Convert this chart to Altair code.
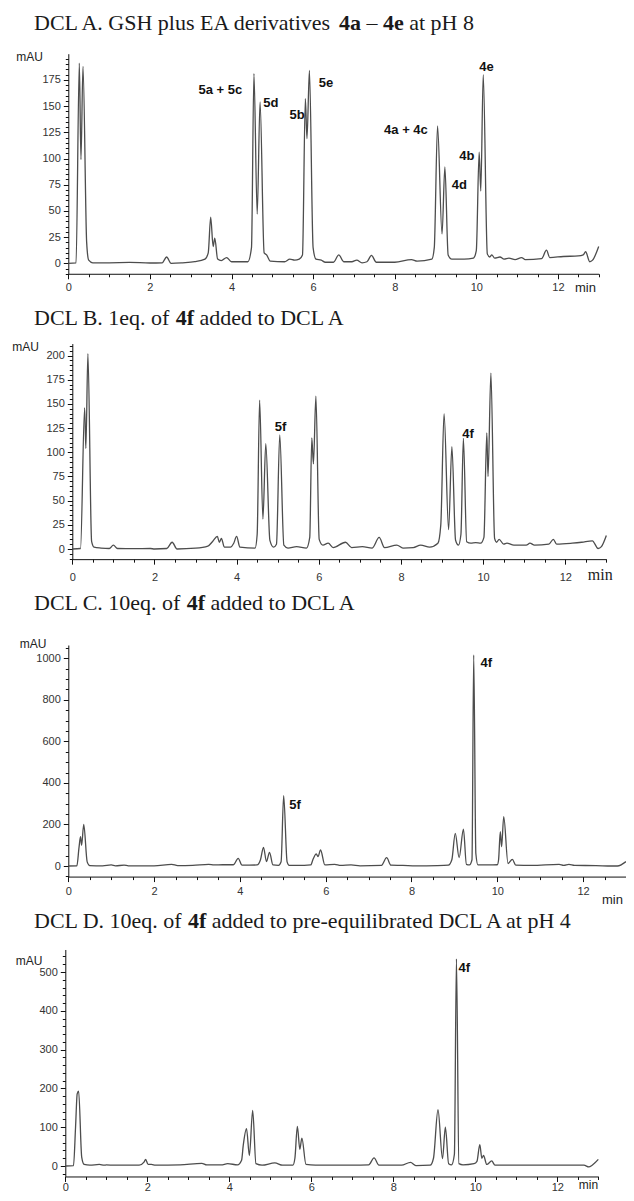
import altair as alt
import pandas as pd

# ---------------- data: chromatogram traces (time in min, absorbance in mAU) -------------
a_t = [0.00, 0.19, 0.27, 0.31, 0.36, 0.45, 0.50, 0.60, 1.00, 1.50, 2.00, 2.30, 2.41, 2.52, 2.80,
       3.10, 3.35, 3.43, 3.49, 3.55, 3.59, 3.66, 3.75, 3.88, 4.00, 4.40, 4.49, 4.55, 4.63, 4.70,
       4.80, 4.86, 4.95, 5.30, 5.43, 5.55, 5.66, 5.74, 5.81, 5.85, 5.91, 6.00, 6.07, 6.20, 6.30,
       6.50, 6.63, 6.75, 6.95, 7.07, 7.20, 7.32, 7.43, 7.55, 8.00, 8.41, 8.55, 8.91, 8.97, 9.05,
       9.16, 9.23, 9.31, 9.40, 9.70, 9.93, 10.00, 10.07, 10.11, 10.17, 10.27, 10.33, 10.38, 10.45,
       10.58, 10.68, 10.80, 10.95, 11.11, 11.20, 11.60, 11.72, 11.80, 12.13, 12.50, 12.62, 12.68,
       12.78, 12.85, 13.00]
a_v = [0.0, 0.5, 191, 99, 188, 20, 3, 0.5, 0.5, 0.8, 0.3, 0.5, 6.0, 0.0, 0.5,
       1.5, 4.0, 10, 44, 16, 24, 4, 2.5, 5.5, 1.5, 1.5, 15, 181, 47, 154,
       10, 8, 2, 1.5, 4, 3, 4, 8, 157, 119, 184, 15, 4, 3, 1,
       1, 8, 1.5, 1.5, 3, 0.5, 1.5, 7.5, 1, 1, 3.5, 2, 4, 15, 131,
       28, 92, 8, 4, 4, 5, 12, 106, 69, 180, 9, 6, 8, 5,
       6, 4, 5, 3.5, 5.5, 3.5, 4.5, 12.5, 5.5, 6.5, 7, 8, 11,
       1.5, 3, 16]

b_t = [0.00, 0.20, 0.30, 0.33, 0.38, 0.47, 0.53, 0.70, 0.90, 1.00, 1.10, 1.50, 1.90, 2.00, 2.30,
       2.43, 2.55, 3.00, 3.30, 3.42, 3.53, 3.58, 3.63, 3.70, 3.85, 3.93, 4.00, 4.08, 4.45, 4.50,
       4.56, 4.64, 4.71, 4.81, 4.90, 4.97, 5.05, 5.15, 5.25, 5.46, 5.70, 5.78, 5.83, 5.87, 5.93,
       6.01, 6.10, 6.23, 6.35, 6.65, 6.80, 7.06, 7.30, 7.47, 7.60, 7.90, 8.05, 8.30, 8.48, 8.70,
       8.90, 8.97, 9.05, 9.16, 9.24, 9.33, 9.40, 9.46, 9.52, 9.60, 9.70, 9.82, 9.94, 10.02, 10.09,
       10.12, 10.19, 10.28, 10.33, 10.39, 10.50, 10.58, 10.75, 11.05, 11.14, 11.25, 11.60, 11.71,
       11.79, 12.17, 12.40, 12.66, 12.80, 12.88, 13.00]
b_v = [0, 0.5, 146, 104, 202, 8, 2, 1, 0.5, 4, 0.5, 0.3, 0.5, 0, 0.5,
       7, 0, 0.8, 3, 8, 13, 7, 11, 2, 2, 6, 13, 2, 1, 15,
       154, 31, 109, 9, 2, 5, 118, 4, 1, 2.5, 1, 12, 115, 88, 158,
       10, 4, 6, 1.5, 7, 1.5, 2.5, 1, 12, 1.5, 4, 1, 1.5, 4, 2,
       6, 25, 140, 20, 106, 9, 4, 15, 114.5, 7.5, 6, 6.5, 6, 12, 120,
       75, 182, 11, 7, 10, 5, 6, 4, 4, 6, 4, 5, 10,
       5, 6, 7, 8.5, 0.5, 2.5, 14]

c_t = [0.00, 0.20, 0.25, 0.285, 0.31, 0.36, 0.44, 0.50, 0.80, 1.00, 1.10, 1.30, 1.40, 2.00, 2.41,
       2.55, 2.90, 3.27, 3.40, 3.60, 3.85, 3.96, 4.05, 4.40, 4.48, 4.55, 4.62, 4.69, 4.77, 4.90,
       4.96, 5.02, 5.10, 5.15, 5.50, 5.65, 5.71, 5.78, 5.82, 5.88, 5.98, 6.21, 6.35, 6.59, 6.80,
       7.30, 7.42, 7.52, 7.80, 8.10, 8.60, 8.86, 8.94, 9.02, 9.11, 9.21, 9.28, 9.35, 9.41, 9.45,
       9.50, 9.55, 9.80, 10.00, 10.03, 10.07, 10.10, 10.15, 10.25, 10.35, 10.43, 10.80, 11.44,
       11.55, 11.67, 11.80, 12.30, 12.67, 12.80, 13.00]
c_v = [0, 1, 90, 141, 100, 200, 20, 2, 1, 5, 1, 4, 1, 1, 8,
       2, 3, 8, 5, 6, 6, 37, 4, 5, 30, 90, 21, 66, 5, 3,
       20, 339, 20, 3, 3, 5, 35, 58, 45, 77, 5, 8, 3, 5, 1,
       3, 40, 4, 3, 1, 2, 4, 30, 157, 40, 177, 8, 5, 30, 1016,
       60, 5, 5, 6, 30, 165, 93, 238, 12, 32, 4, 3, 8,
       3, 8, 3, 2, 0, 0, 21]

d_t = [0.00, 0.20, 0.25, 0.29, 0.325, 0.40, 0.46, 0.60, 0.83, 0.95, 1.00, 1.20, 1.80, 1.92, 1.96,
       2.02, 2.10, 2.20, 2.80, 3.33, 3.45, 3.80, 3.96, 4.20, 4.30, 4.34, 4.42, 4.49, 4.57, 4.65,
       4.80, 5.11, 5.30, 5.55, 5.60, 5.66, 5.72, 5.77, 5.87, 6.10, 7.00, 7.40, 7.53, 7.65, 8.20,
       8.42, 8.55, 8.90, 8.98, 9.09, 9.20, 9.27, 9.35, 9.42, 9.49, 9.54, 9.60, 9.70, 9.97, 10.04,
       10.11, 10.16, 10.20, 10.28, 10.40, 10.48, 11.00, 12.00, 12.65, 12.77, 12.85, 13.00]
d_v = [0, 1, 100, 186, 193, 23, 4, 2, 4, 2, 3, 2, 2, 10, 17,
       4, 4, 2, 3, 7, 3, 3, 6, 3, 15, 53, 96, 27, 143, 6,
       2, 8, 2, 2, 20, 102, 43, 72, 4, 2, 2, 3, 21, 2, 2,
       9.5, 1, 2, 20, 145, 19, 100, 6, 3, 30, 534, 6, 3, 6, 12,
       55, 20, 27, 4, 13, 2, 2, 2, 2, -2.5, 2, 17]

# peak labels (left edge time, mAU)
a_lab = ["5a + 5c", "5d", "5b", "5e", "4a + 4c", "4d", "4b", "4e"]
a_lab_t = [3.19, 4.78, 5.42, 6.14, 7.74, 9.40, 9.58, 10.07]
a_lab_v = [165, 153, 141.5, 172, 127, 75, 102, 187]
b_lab = ["5f", "4f"]
b_lab_t = [4.93, 9.49]
b_lab_v = [126.5, 118.6]
c_lab = ["5f", "4f"]
c_lab_t = [5.15, 9.61]
c_lab_v = [294, 976]
d_lab = ["4f"]
d_lab_t = [9.59]
d_lab_v = [511]

# panel titles (segments, bold flags)
title_a = ["DCL A. GSH plus EA derivatives", "4a", "\u2013", "4e", "at pH 8"]
title_b = ["DCL B. 1eq. of", "4f", "added to DCL A"]
title_c = ["DCL C. 10eq. of", "4f", "added to DCL A"]
title_d = ["DCL D. 10eq. of", "4f", "added to pre-equilibrated DCL A at pH 4"]
bold_a = [False, True, False, True, False]
bold_bcd = [False, True, False]

x_major = [0, 2, 4, 6, 8, 10, 12]

# ---------------- layout ----------------
W, H = 618, 1185
TITLE_SIZE = 22

# Times metrics (per 1000 em) for placing the mixed regular / bold title segments
TR = {' ': 250, '.': 250, '-': 333, '\u2013': 500, 'A': 722, 'B': 667, 'C': 667, 'D': 722,
      'E': 611, 'G': 722, 'H': 722, 'L': 611, 'S': 556, 'a': 444, 'b': 500, 'c': 444,
      'd': 500, 'e': 444, 'f': 333, 'h': 500, 'i': 278, 'l': 278, 'n': 500, 'o': 500,
      'p': 500, 'q': 500, 'r': 333, 's': 389, 't': 278, 'u': 500, 'v': 500}
TB = {'a': 500, 'e': 444, 'f': 333}


def seg_width(s, bold):
    tot = 0
    for ch in s:
        if ch.isdigit():
            tot += 500
        elif bold and ch in TB:
            tot += TB[ch]
        else:
            tot += TR.get(ch, 500)
    return tot * TITLE_SIZE / 1000.0


panels = [
    dict(t=a_t, v=a_v, lab=a_lab, lt=a_lab_t, lv=a_lab_v, x0=60.3, pxm=40.8,
         ylo=-10, yhi=200, y0=255.3, pxu=1.048, ymaj=list(range(0, 176, 25)),
         ymin=[v for v in range(-10, 201, 5) if v % 25], lp=3,
         mau=(-39.3, 48.7), minx=577, miny=13.3, minfont="Liberation Sans", minsize=13,
         title=title_a, bold=bold_a, tb=22),
    dict(t=b_t, v=b_v, lab=b_lab, lt=b_lab_t, lv=b_lab_v, x0=64.3, pxm=41.08,
         ylo=-10.5, yhi=212.5, y0=541, pxu=0.9667, ymaj=list(range(0, 201, 25)),
         ymin=[v for v in range(-10, 211, 5) if v % 25], lp=7,
         mau=(-47.3, 338), minx=591.7, miny=15.7, minfont="Liberation Serif", minsize=16,
         title=title_b, bold=bold_bcd, tb=317),
    dict(t=c_t, v=c_v, lab=c_lab, lt=c_lab_t, lv=c_lab_v, x0=60.3, pxm=42.9,
         ylo=-51, yhi=1064, y0=858, pxu=0.2077, ymaj=list(range(0, 1001, 200)),
         ymin=[v for v in range(-50, 1051, 50) if v % 200], lp=4,
         mau=(-35.8, 635.3), minx=604, miny=23.3, minfont="Liberation Sans", minsize=13,
         title=title_c, bold=bold_bcd, tb=602),
    dict(t=d_t, v=d_v, lab=d_lab, lt=d_lab_t, lv=d_lab_v, x0=57.3, pxm=41.0,
         ylo=-27, yhi=558, y0=1158, pxu=0.388, ymaj=list(range(0, 501, 100)),
         ymin=[v for v in range(-20, 541, 20) if v % 100], lp=0,
         mau=(-36.6, 952), minx=580, miny=8.5, minfont="Liberation Sans", minsize=12,
         title=title_d, bold=bold_bcd, tb=920),
]

x_minor = [i * 0.5 for i in range(0, 27) if (i * 0.5) % 2 != 0]

layers = []
for p in panels:
    df = pd.DataFrame({"t": p["t"], "v": p["v"]})
    ybot = p["y0"] - p["ylo"] * p["pxu"]
    ytop = p["y0"] - p["yhi"] * p["pxu"]
    xs = alt.Scale(domain=[0, 13], range=[p["x0"], p["x0"] + 13 * p["pxm"]], nice=False, zero=False)
    ys = alt.Scale(domain=[p["ylo"], p["yhi"]], range=[ybot, ytop], nice=False, zero=False)
    xoff = ybot - H

    line = alt.Chart(df).mark_line(color="#4d4d4d", strokeWidth=1.3, interpolate="monotone").encode(
        x=alt.X("t:Q", scale=xs, axis=alt.Axis(
            orient="bottom", offset=xoff, values=x_major, tickSize=5, labelPadding=p["lp"],
            labelFlush=False, labelOverlap=False, grid=False, title="min", format="d",
            titleX=p["minx"], titleY=p["miny"], titleAngle=0, titleAlign="center",
            titleBaseline="middle", titleFont=p["minfont"], titleFontSize=p["minsize"],
            titleFontWeight="normal", titleColor="#222")),
        y=alt.Y("v:Q", scale=ys, axis=alt.Axis(
            orient="left", offset=-p["x0"], values=p["ymaj"], tickSize=5, labelPadding=3,
            labelOverlap=False, grid=False, title="mAU", format="d",
            titleX=p["mau"][0], titleY=p["mau"][1],
            titleAngle=0, titleAlign="center", titleBaseline="middle", titleFontSize=12,
            titleFontWeight="normal", titleColor="#222")),
    )
    minor = alt.Chart(df).mark_line(strokeOpacity=0).encode(
        x=alt.X("t:Q", scale=xs, axis=alt.Axis(
            orient="bottom", offset=xoff, values=x_minor, tickSize=3, labels=False,
            domain=False, grid=False, title="")),
        y=alt.Y("v:Q", scale=ys, axis=alt.Axis(
            orient="left", offset=-p["x0"], values=p["ymin"], tickSize=3, labels=False,
            domain=False, grid=False, title="")),
    )
    ldf = pd.DataFrame({"label": p["lab"], "t": p["lt"], "v": p["lv"]})
    labels = alt.Chart(ldf).mark_text(
        font="Liberation Sans", fontWeight="bold", fontSize=13, align="left",
        baseline="middle", color="#111").encode(
        x=alt.X("t:Q", scale=xs, axis=None),
        y=alt.Y("v:Q", scale=ys, axis=None),
        text="label:N",
    )
    layers += [line, minor, labels]

    # panel title built from regular / bold segments (one text item per segment)
    xpos = 26.0
    for seg, b in zip(p["title"], p["bold"]):
        layers.append(
            alt.Chart(pd.DataFrame({"s": [seg]})).mark_text(
                font="Liberation Serif", fontSize=TITLE_SIZE, fontWeight="bold" if b else "normal",
                align="left", baseline="alphabetic", color="#1a1a1a").encode(
                x=alt.value(xpos), y=alt.value(p["tb"]), text="s:N")
        )
        xpos += seg_width(seg, b) + seg_width(" ", False)

chart = alt.layer(*layers).resolve_scale(x="independent", y="independent").properties(
    width=W, height=H, padding=0, autosize=alt.AutoSizeParams(type="none"),
).configure_view(strokeWidth=0).configure_axis(
    labelFont="Liberation Sans", labelFontSize=11, labelColor="#333",
    domainColor="#111", tickColor="#111", titleFont="Liberation Sans",
)

chart.save("out.html", embed_options={"renderer": "svg", "actions": False})
